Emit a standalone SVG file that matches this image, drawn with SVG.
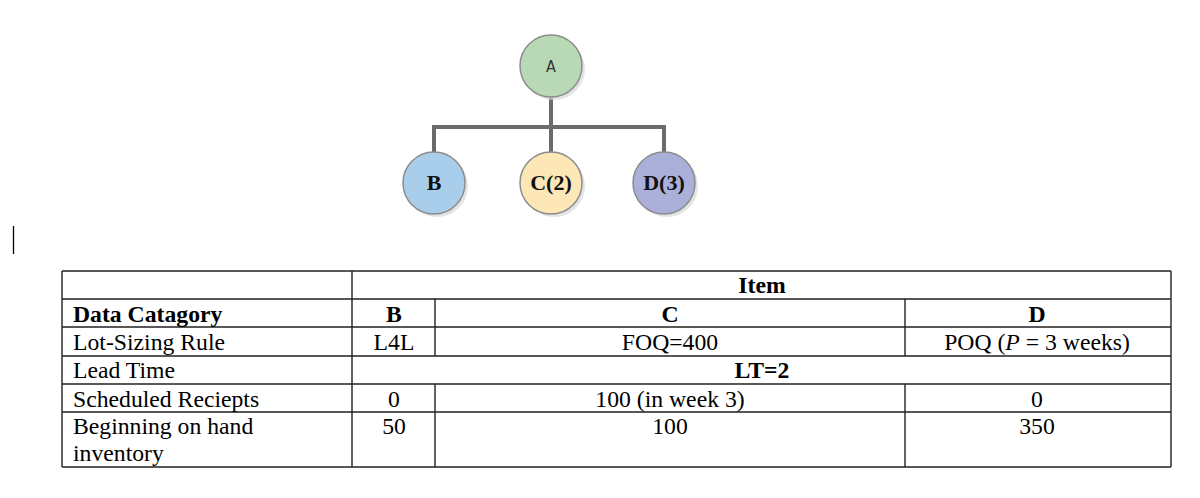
<svg xmlns="http://www.w3.org/2000/svg" width="1200" height="498" viewBox="0 0 1200 498">
<style>
.node{stroke:#8c8c8c;stroke-width:1.5}
.shadow{fill:#d9d9d9;opacity:0.7}
.conn{stroke:#6b6b6b;stroke-width:4;fill:none;stroke-linecap:square}
.lbl{font-family:"Liberation Serif",serif;font-weight:bold;font-size:22px;fill:#111;text-anchor:middle}
.lblA{font-family:"DejaVu Sans Condensed","DejaVu Sans",sans-serif;font-size:16px;fill:#333;text-anchor:middle}
.grid{stroke:#222;stroke-width:1.4;fill:none}
.t{font-family:"Liberation Serif",serif;font-size:23.7px;fill:#000}
.c{text-anchor:middle}
.b{font-weight:bold}
</style>
<rect width="1200" height="498" fill="#ffffff"/>
<line x1="13.5" y1="226" x2="13.5" y2="254" stroke="#000" stroke-width="1.3"/>
<g id="connectors">
<path class="conn" d="M551 97 V127 M434 127 H664 M434 127 V153 M551 127 V153 M664 127 V153"/>
</g>
<g id="node-A">
<circle class="shadow" cx="554" cy="69" r="31"/>
<circle class="node" cx="551" cy="66" r="31" fill="#b9d8b5"/>
<text class="lblA" x="551" y="72">A</text>
</g>
<g id="node-B">
<circle class="shadow" cx="437" cy="186" r="31"/>
<circle class="node" cx="434" cy="183" r="31" fill="#a9ceec"/>
<text class="lbl" x="434" y="190">B</text>
</g>
<g id="node-C">
<circle class="shadow" cx="554" cy="186" r="31"/>
<circle class="node" cx="551" cy="183" r="31" fill="#fde7b6"/>
<text class="lbl" x="551" y="190">C(2)</text>
</g>
<g id="node-D">
<circle class="shadow" cx="667" cy="186" r="31"/>
<circle class="node" cx="664" cy="183" r="31" fill="#abb0da"/>
<text class="lbl" x="664" y="190">D(3)</text>
</g>
<g id="table">
<path class="grid" d="M62 271 H1171 M62 299 H1171 M62 327 H1171 M62 356 H1171 M62 384 H1171 M62 412 H1171 M62 467 H1171 M62 271 V467 M352 271 V467 M1171 271 V467 M435 299 V356 M905 299 V356 M435 384 V467 M905 384 V467"/>
<text class="t b c" x="762" y="293">Item</text>
<text class="t b" x="73" y="322">Data Catagory</text>
<text class="t b c" x="394" y="322">B</text>
<text class="t b c" x="670" y="322">C</text>
<text class="t b c" x="1037" y="322">D</text>
<text class="t" x="73" y="350">Lot-Sizing Rule</text>
<text class="t c" x="394" y="350">L4L</text>
<text class="t c" x="670" y="350">FOQ=400</text>
<text class="t c" x="1037" y="350">POQ (<tspan font-style="italic">P</tspan> = 3 weeks)</text>
<text class="t" x="73" y="378">Lead Time</text>
<text class="t b c" x="762" y="378">LT=2</text>
<text class="t" x="73" y="407">Scheduled Reciepts</text>
<text class="t c" x="394" y="407">0</text>
<text class="t c" x="670" y="407">100 (in week 3)</text>
<text class="t c" x="1037" y="407">0</text>
<text class="t" x="73" y="434">Beginning on hand</text>
<text class="t" x="73" y="461">inventory</text>
<text class="t c" x="394" y="434">50</text>
<text class="t c" x="670" y="434">100</text>
<text class="t c" x="1037" y="434">350</text>
</g>
</svg>
